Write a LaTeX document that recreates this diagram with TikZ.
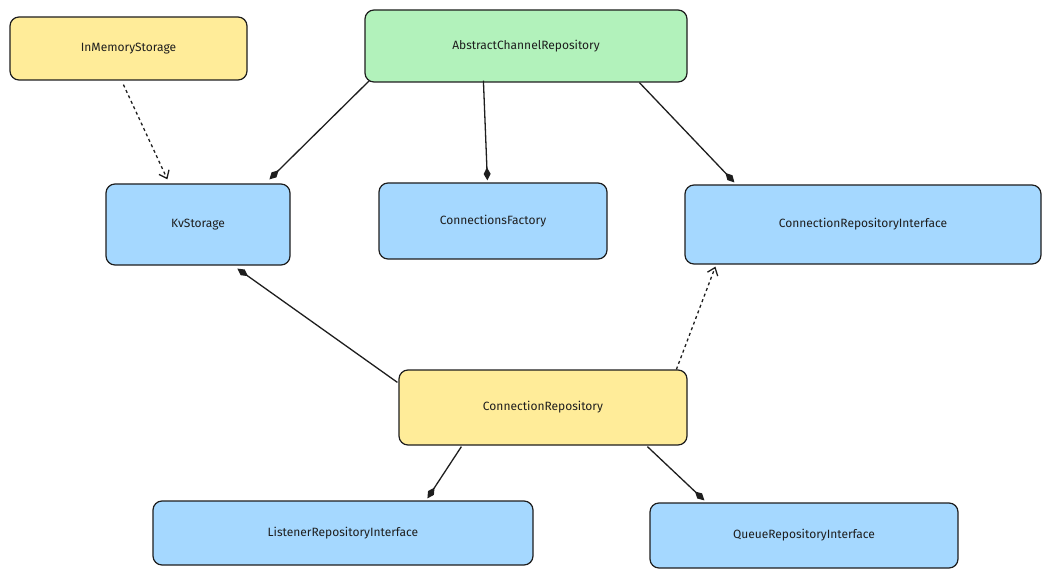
\documentclass[tikz,border=0pt]{standalone}
\usepackage{fontspec}
\setmainfont{Fira Sans}
\usetikzlibrary{arrows.meta,calc}
\definecolor{yel}{HTML}{FFEC99}
\definecolor{grn}{HTML}{B2F2BB}
\definecolor{blu}{HTML}{A5D8FF}
\definecolor{ink}{HTML}{1E1E1E}
\begin{document}
\begin{tikzpicture}[x=1pt,y=-1pt,
 box/.style={draw=ink,line width=1.2pt,rounded corners=9pt,font=\fontsize{12}{14}\selectfont,text=ink,inner sep=0pt},
 comp/.style={draw=ink,line width=1.3pt,-{Diamond[length=13pt,width=7pt]}},
 dep/.style={draw=ink,line width=1.3pt,dashed,-{Straight Barb[length=7pt,width=11pt]}}]
\useasboundingbox (0,0) rectangle (1052,580);
\node[box,fill=yel,minimum width=237pt,minimum height=63pt] (ims) at (128.5,48.5) {InMemoryStorage};
\node[box,fill=grn,minimum width=322pt,minimum height=72pt] (abs) at (526,46) {AbstractChannelRepository};
\node[box,fill=blu,minimum width=184pt,minimum height=81pt] (kv) at (198,224.5) {KvStorage};
\node[box,fill=blu,minimum width=228pt,minimum height=76pt] (cf) at (493,221) {ConnectionsFactory};
\node[box,fill=blu,minimum width=356pt,minimum height=79pt] (cri) at (863,224.5) {ConnectionRepositoryInterface};
\node[box,fill=yel,minimum width=288pt,minimum height=75pt] (cr) at (543,407.5) {ConnectionRepository};
\node[box,fill=blu,minimum width=380pt,minimum height=64pt] (lri) at (343,533) {ListenerRepositoryInterface};
\node[box,fill=blu,minimum width=308pt,minimum height=65pt] (qri) at (804,535.5) {QueueRepositoryInterface};
\draw[dep] ($(ims.south west)+(114,4)$) -- ($(kv.north west)+(62,-4)$);
\draw[comp] ($(abs.south west)+(5,-2)$) -- ($(kv.north west)+(164,-4)$);
\draw[comp] ($(abs.south west)+(119,-2)$) -- ($(cf.north west)+(109,-2)$);
\draw[comp] ($(abs.south west)+(275,0)$) -- ($(cri.north west)+(50,-2)$);
\draw[comp] ($(cr.north west)+(-1,13)$) -- ($(kv.south west)+(132,3)$);
\draw[dep] ($(cr.north west)+(278,0)$) -- ($(cri.south west)+(31,2)$);
\draw[comp] ($(cr.south west)+(63,1)$) -- ($(lri.north west)+(275,-2)$);
\draw[comp] ($(cr.south west)+(249,1)$) -- ($(qri.north west)+(55,-2)$);
\end{tikzpicture}
\end{document}
